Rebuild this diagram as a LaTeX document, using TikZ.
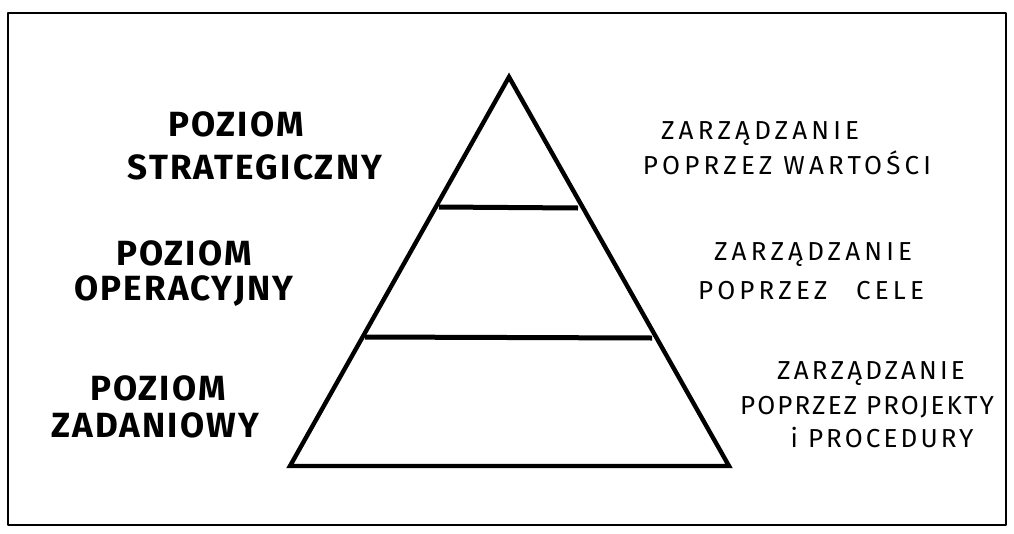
\documentclass[tikz,border=0pt]{standalone}
\usepackage{fontspec}
\setmainfont{Fira Sans}
\newfontfamily\leftfont[LetterSpace=6]{Fira Sans}
\newfontfamily\rightfont[LetterSpace=16]{Fira Sans}
\newfontfamily\rightfontnarrow[LetterSpace=8]{Fira Sans}
\newfontfamily\rightfontmid[LetterSpace=12]{Fira Sans}
\tikzset{
  frame/.style={line width=1.8pt, line join=round},
  pyr/.style={line width=4.4pt, line join=miter},
  level/.style={line width=5pt},
  lefttext/.style={inner sep=0pt, text height=24pt, text depth=0pt,
    font=\leftfont\bfseries\fontsize{35}{35}\selectfont},
  rightbase/.style={inner sep=0pt, text height=17pt, text depth=0pt},
  righttext/.style={rightbase, font=\rightfont\fontsize{26}{26}\selectfont},
  righttextnarrow/.style={rightbase, font=\rightfontnarrow\fontsize{26}{26}\selectfont},
  righttextmid/.style={rightbase, font=\rightfontmid\fontsize{26}{26}\selectfont},
}
\begin{document}
\begin{tikzpicture}[x=1pt,y=-1pt]
\useasboundingbox (0,0) rectangle (1014,533);
\fill[white] (0,0) rectangle (1014,533);
% frame
\coordinate (f1) at (8,13);
\coordinate (f2) at (1006,525);
\draw[frame] (f1) rectangle (f2);
% pyramid
\coordinate (apex) at (509,77);
\coordinate (bl) at (290,466);
\coordinate (br) at (729,466);
\coordinate (l1a) at (439,207);
\coordinate (l1b) at (578,208);
\coordinate (l2a) at (365,337);
\coordinate (l2b) at (652,338);
\draw[pyr] (apex) -- (bl) -- (br) -- cycle;
\draw[level] (l1a) -- (l1b);
\draw[level] (l2a) -- (l2b);
% left labels
\node[lefttext] (s1) at (236,124) {POZIOM};
\node[lefttext] (s2) at (255,167) {STRATEGICZNY};
\node[lefttext] (o1) at (184,253) {POZIOM};
\node[lefttext] (o2) at (184,288) {OPERACYJNY};
\node[lefttext] (z1) at (158,388) {POZIOM};
\node[lefttext] (z2) at (155,425) {ZADANIOWY};
% right labels
\node[righttext] (w1) at (760,131) {ZARZĄDZANIE};
\node[righttext] (w2) at (787,166) {POPRZEZ WARTOŚCI};
\node[righttext] (c1) at (813,252) {ZARZĄDZANIE};
\node[righttext] (c2) at (811,291) {POPRZEZ\hspace{1.1em}CELE};
\node[righttextmid] (p1) at (871,371) {ZARZĄDZANIE};
\node[righttextnarrow] (p2) at (867,406) {POPRZEZ PROJEKTY};
\node[righttextmid] (p3) at (882,439) {i PROCEDURY};
\end{tikzpicture}
\end{document}
